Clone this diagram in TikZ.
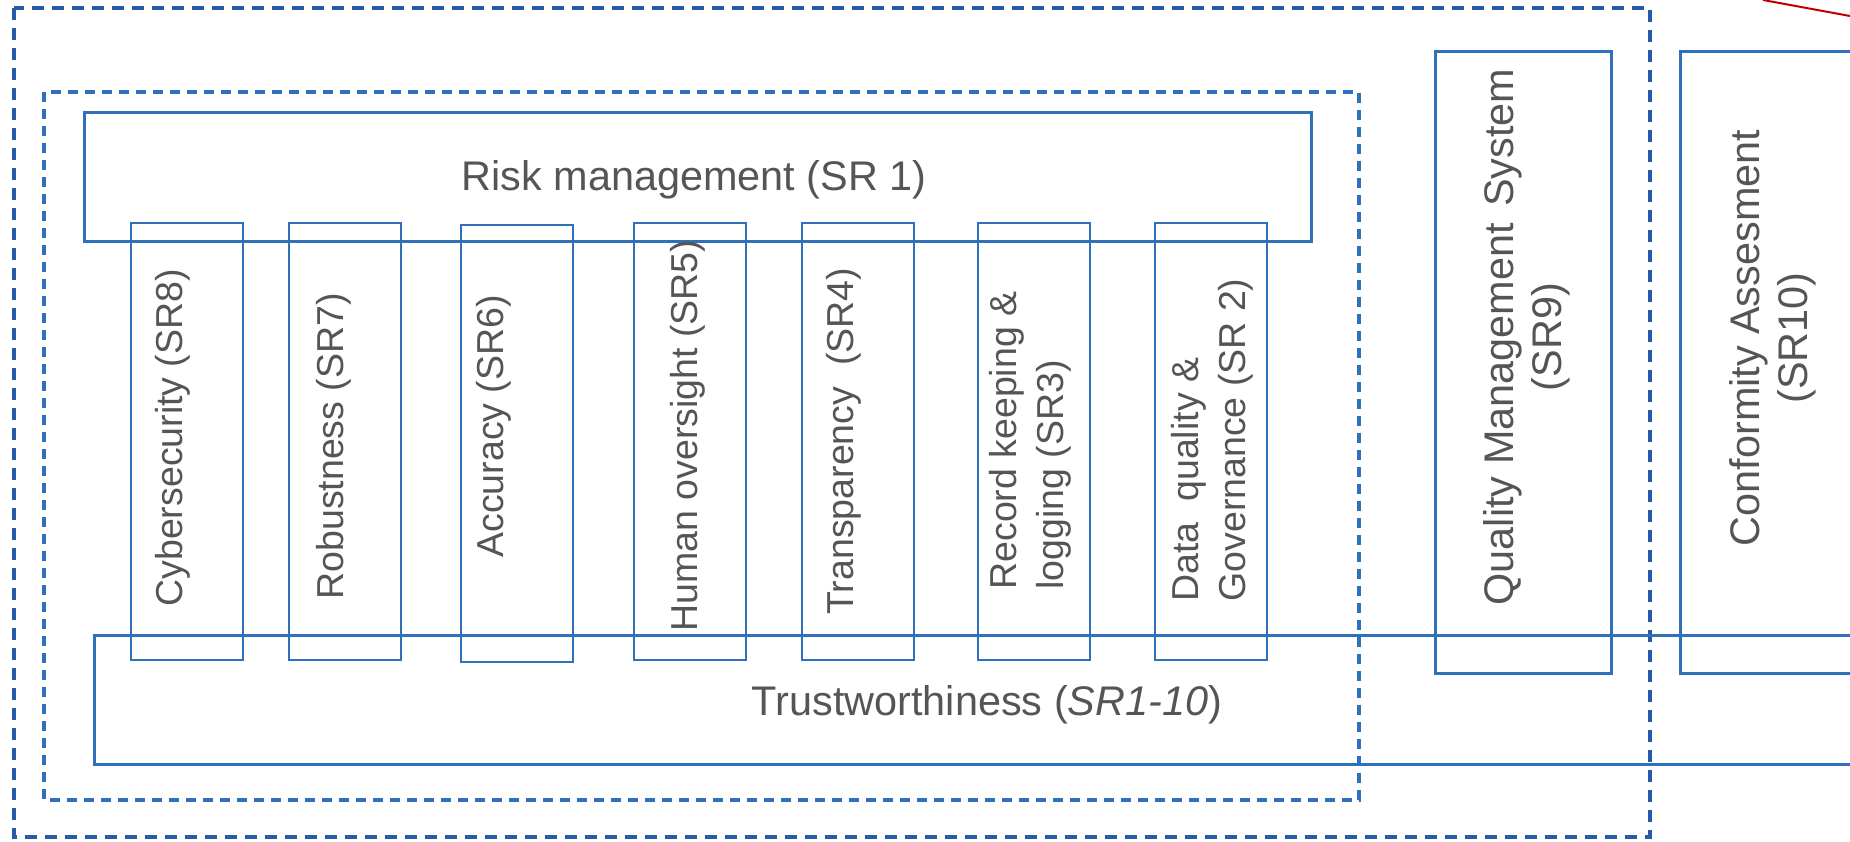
\documentclass[tikz,border=0pt]{standalone}
\usepackage{fontspec}
\setmainfont{Liberation Sans}
\usepackage{tikz}
\usetikzlibrary{positioning}

\definecolor{boxblue}{RGB}{46,112,186}
\definecolor{frameblue}{RGB}{38,92,166}
\definecolor{textgray}{RGB}{85,85,85}
\definecolor{markred}{RGB}{192,0,0}

\begin{document}
\begin{tikzpicture}[x=0.5pt,y=-0.5pt,
    box/.style={draw=boxblue,line width=1.5pt},
    pillar/.style={draw=boxblue,line width=0.9pt},
    frame/.style={draw=frameblue,line width=1.7pt,dash pattern=on 6pt off 4pt},
    subframe/.style={draw=boxblue,line width=1.7pt,dash pattern=on 5pt off 3.5pt},
    label/.style={text=textgray,inner sep=0pt,font=\fontsize{20.7}{24}\selectfont}]
  \tikzstyle{pillar text}=[text=textgray,inner sep=0pt,rotate=90,anchor=west,
                           align=left,font=\fontsize{18.75}{23.5}\selectfont]

  \useasboundingbox (0,0) rectangle (1850,841);
  \clip (0,0) rectangle (1850,841);

  % dashed frames
  \draw[frame]    (14,8)  rectangle (1650,837);
  \draw[subframe] (44,92) rectangle (1359,800);

  % risk management and trustworthiness
  \draw[box] (84,112) rectangle (1311,241);
  \node[label,anchor=base] (risk)  at (694,190) {Risk management (SR 1)};
  \draw[box] (94,635) rectangle (1900,764);
  \node[label,anchor=base] (trust) at (987,715) {Trustworthiness (\textit{SR1-10})};

  % the pillars
  \foreach \px/\py/\tx/\ty/\name/\txt in {
      131/223/173/607/cyber/{Cybersecurity (SR8)},
      289/223/334/600/robust/{Robustness (SR7)},
      461/225/494/558/accuracy/{Accuracy (SR6)},
      634/223/688/632/human/{Human oversight (SR5)},
      802/223/844/615/transp/{Transparency~ (SR4)},
      978/223/1030/590/record/{Record keeping \&\\logging (SR3)},
      1155/223/1212/602/data/{Data~ quality \&\\Governance (SR 2)}}
  {
    \draw[pillar] (\px,\py) rectangle ++(112,437);
    \node[pillar text] (\name) at (\tx,\ty) {\txt};
  }

  % quality management and conformity
  \draw[box] (1435,51) rectangle (1611,673);
  \node[label,rotate=90,align=center] (qms) at (1527,337)
        {Quality Management\hspace{0.12em} System\\(SR9)};
  \draw[box] (1680,51) rectangle (1900,673);
  \node[label,rotate=90,align=center] (conf) at (1773,338)
        {Conformity Assesment\\(SR10)};

  \draw[markred,line width=1pt] (1763,0) -- (1850,16);
\end{tikzpicture}
\end{document}
